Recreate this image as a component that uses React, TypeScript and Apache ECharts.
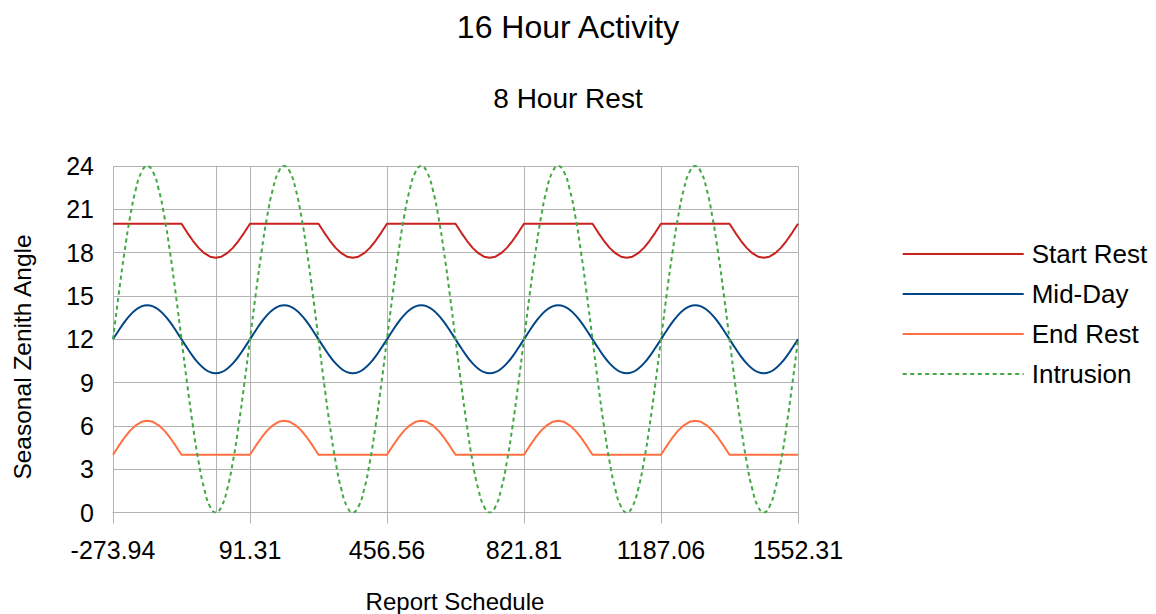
import React, { useEffect, useRef } from "react";
import * as echarts from "echarts";

const FONT = '"Liberation Sans", Arial, Helvetica, sans-serif';

// x sampling: 24 samples per 365.25-day cycle, starting at -273.94
const X_START = -273.94;
const X_STEP = 365.25 / 24;

const X_TICK_MIN = -273.94;
const X_TICK_MAX = 1552.31;
const X_TICK_INTERVAL = 365.25;
const Y_MIN = 0;
const Y_MAX = 24;
const Y_INTERVAL = 3;

const SERIES_NAMES = ["Start Rest", "Mid-Day", "End Rest", "Intrusion"];

const START_REST = [
  20, 20, 20, 20, 20, 20, 20, 20, 20, 20, 20, 20, 20, 19.39, 18.82, 18.33, 17.96, 17.72, 17.64, 17.72, 17.96, 18.33, 18.82, 19.39,
  20, 20, 20, 20, 20, 20, 20, 20, 20, 20, 20, 20, 20, 19.39, 18.82, 18.33, 17.96, 17.72, 17.64, 17.72, 17.96, 18.33, 18.82, 19.39,
  20, 20, 20, 20, 20, 20, 20, 20, 20, 20, 20, 20, 20, 19.39, 18.82, 18.33, 17.96, 17.72, 17.64, 17.72, 17.96, 18.33, 18.82, 19.39,
  20, 20, 20, 20, 20, 20, 20, 20, 20, 20, 20, 20, 20, 19.39, 18.82, 18.33, 17.96, 17.72, 17.64, 17.72, 17.96, 18.33, 18.82, 19.39,
  20, 20, 20, 20, 20, 20, 20, 20, 20, 20, 20, 20, 20, 19.39, 18.82, 18.33, 17.96, 17.72, 17.64, 17.72, 17.96, 18.33, 18.82, 19.39,
  20,
];

const MID_DAY = [
  12, 12.61, 13.18, 13.67, 14.04, 14.28, 14.36, 14.28, 14.04, 13.67, 13.18, 12.61, 12, 11.39, 10.82, 10.33, 9.96, 9.72, 9.64, 9.72, 9.96, 10.33, 10.82, 11.39,
  12, 12.61, 13.18, 13.67, 14.04, 14.28, 14.36, 14.28, 14.04, 13.67, 13.18, 12.61, 12, 11.39, 10.82, 10.33, 9.96, 9.72, 9.64, 9.72, 9.96, 10.33, 10.82, 11.39,
  12, 12.61, 13.18, 13.67, 14.04, 14.28, 14.36, 14.28, 14.04, 13.67, 13.18, 12.61, 12, 11.39, 10.82, 10.33, 9.96, 9.72, 9.64, 9.72, 9.96, 10.33, 10.82, 11.39,
  12, 12.61, 13.18, 13.67, 14.04, 14.28, 14.36, 14.28, 14.04, 13.67, 13.18, 12.61, 12, 11.39, 10.82, 10.33, 9.96, 9.72, 9.64, 9.72, 9.96, 10.33, 10.82, 11.39,
  12, 12.61, 13.18, 13.67, 14.04, 14.28, 14.36, 14.28, 14.04, 13.67, 13.18, 12.61, 12, 11.39, 10.82, 10.33, 9.96, 9.72, 9.64, 9.72, 9.96, 10.33, 10.82, 11.39,
  12,
];

const END_REST = [
  4, 4.61, 5.18, 5.67, 6.04, 6.28, 6.36, 6.28, 6.04, 5.67, 5.18, 4.61, 4, 4, 4, 4, 4, 4, 4, 4, 4, 4, 4, 4,
  4, 4.61, 5.18, 5.67, 6.04, 6.28, 6.36, 6.28, 6.04, 5.67, 5.18, 4.61, 4, 4, 4, 4, 4, 4, 4, 4, 4, 4, 4, 4,
  4, 4.61, 5.18, 5.67, 6.04, 6.28, 6.36, 6.28, 6.04, 5.67, 5.18, 4.61, 4, 4, 4, 4, 4, 4, 4, 4, 4, 4, 4, 4,
  4, 4.61, 5.18, 5.67, 6.04, 6.28, 6.36, 6.28, 6.04, 5.67, 5.18, 4.61, 4, 4, 4, 4, 4, 4, 4, 4, 4, 4, 4, 4,
  4, 4.61, 5.18, 5.67, 6.04, 6.28, 6.36, 6.28, 6.04, 5.67, 5.18, 4.61, 4, 4, 4, 4, 4, 4, 4, 4, 4, 4, 4, 4,
  4,
];

const INTRUSION = [
  12, 15.11, 18, 20.49, 22.39, 23.59, 24, 23.59, 22.39, 20.49, 18, 15.11, 12, 8.89, 6, 3.51, 1.61, 0.41, 0, 0.41, 1.61, 3.51, 6, 8.89,
  12, 15.11, 18, 20.49, 22.39, 23.59, 24, 23.59, 22.39, 20.49, 18, 15.11, 12, 8.89, 6, 3.51, 1.61, 0.41, 0, 0.41, 1.61, 3.51, 6, 8.89,
  12, 15.11, 18, 20.49, 22.39, 23.59, 24, 23.59, 22.39, 20.49, 18, 15.11, 12, 8.89, 6, 3.51, 1.61, 0.41, 0, 0.41, 1.61, 3.51, 6, 8.89,
  12, 15.11, 18, 20.49, 22.39, 23.59, 24, 23.59, 22.39, 20.49, 18, 15.11, 12, 8.89, 6, 3.51, 1.61, 0.41, 0, 0.41, 1.61, 3.51, 6, 8.89,
  12, 15.11, 18, 20.49, 22.39, 23.59, 24, 23.59, 22.39, 20.49, 18, 15.11, 12, 8.89, 6, 3.51, 1.61, 0.41, 0, 0.41, 1.61, 3.51, 6, 8.89,
  12,
];

const COLORS = ["#c9211e", "#004586", "#ff6f3f", "#43a843"];

function pairs(values: number[]) {
  return values.map((v, i) => [Math.round((X_START + i * X_STEP) * 100) / 100, v]);
}

export default function App() {
  const ref = useRef<HTMLDivElement>(null);

  useEffect(() => {
    if (!ref.current) return;
    const chart = echarts.init(ref.current, undefined, { renderer: "svg" });
    const grey = "#b3b3b3";
    const seriesData = [START_REST, MID_DAY, END_REST, INTRUSION];

    chart.setOption({
      animation: false,
      backgroundColor: "#ffffff",
      textStyle: { fontFamily: FONT },
      grid: { left: 113, top: 166, width: 685, height: 346.5, containLabel: false },
      xAxis: {
        type: "value",
        min: X_TICK_MIN,
        max: X_TICK_MAX,
        interval: X_TICK_INTERVAL,
        axisLine: { show: true, onZero: false, lineStyle: { color: grey, width: 1 } },
        axisTick: { show: true, inside: false, length: 11, lineStyle: { color: grey, width: 1 } },
        splitLine: { show: true, lineStyle: { color: grey, width: 1 } },
        axisLabel: {
          show: true,
          showMinLabel: true,
          showMaxLabel: true,
          hideOverlap: false,
          margin: 25,
          color: "#000",
          fontFamily: FONT,
          fontSize: 25,
          formatter: (v: number) => v.toFixed(2),
        },
      },
      yAxis: {
        type: "value",
        min: Y_MIN,
        max: Y_MAX,
        interval: Y_INTERVAL,
        axisLine: { show: true, lineStyle: { color: grey, width: 1 } },
        axisTick: { show: true, inside: false, length: 11, lineStyle: { color: grey, width: 1 } },
        splitLine: { show: true, lineStyle: { color: grey, width: 1 } },
        axisLabel: { margin: 19, color: "#000", fontFamily: FONT, fontSize: 25 },
      },
      legend: {
        orient: "vertical",
        left: 901.7,
        top: 241,
        padding: 0,
        itemWidth: 121,
        itemHeight: 14,
        itemGap: 14,
        selectedMode: false,
        itemStyle: { opacity: 0, borderWidth: 0 },
        textStyle: {
          fontFamily: FONT,
          fontSize: 26,
          lineHeight: 26,
          color: "#000",
          padding: [0, 0, 0, 3],
        },
        data: SERIES_NAMES,
      },
      series: SERIES_NAMES.map((name, i) => ({
        name,
        type: "line",
        data: pairs(seriesData[i]),
        symbol: "none",
        showSymbol: false,
        smooth: i === 1 || i === 3 ? 0.5 : false,
        color: COLORS[i],
        lineStyle: {
          color: COLORS[i],
          width: 2,
          type: i === 3 ? [4, 3.5] : "solid",
        },
        itemStyle: { color: COLORS[i] },
        z: 2 + i,
      })),
      graphic: [
        {
          type: "text",
          x: 568,
          y: 26.5,
          style: {
            text: "16 Hour Activity",
            font: `32px ${FONT}`,
            fill: "#000",
            textAlign: "center",
            textVerticalAlign: "middle",
          },
        },
        {
          type: "text",
          x: 568,
          y: 98,
          style: {
            text: "8 Hour Rest",
            font: `28px ${FONT}`,
            fill: "#000",
            textAlign: "center",
            textVerticalAlign: "middle",
          },
        },
        {
          type: "text",
          x: 455,
          y: 601,
          style: {
            text: "Report Schedule",
            font: `24px ${FONT}`,
            fill: "#000",
            textAlign: "center",
            textVerticalAlign: "middle",
          },
        },
        {
          type: "text",
          x: 22,
          y: 357,
          rotation: Math.PI / 2,
          style: {
            text: "Seasonal Zenith Angle",
            font: `24.5px ${FONT}`,
            fill: "#000",
            textAlign: "center",
            textVerticalAlign: "middle",
          },
        },
      ],
    });

    return () => {
      chart.dispose();
    };
  }, []);

  return (
    <div
      ref={ref}
      style={{ position: "absolute", left: 0, top: 0, width: 1156, height: 614 }}
    />
  );
}
